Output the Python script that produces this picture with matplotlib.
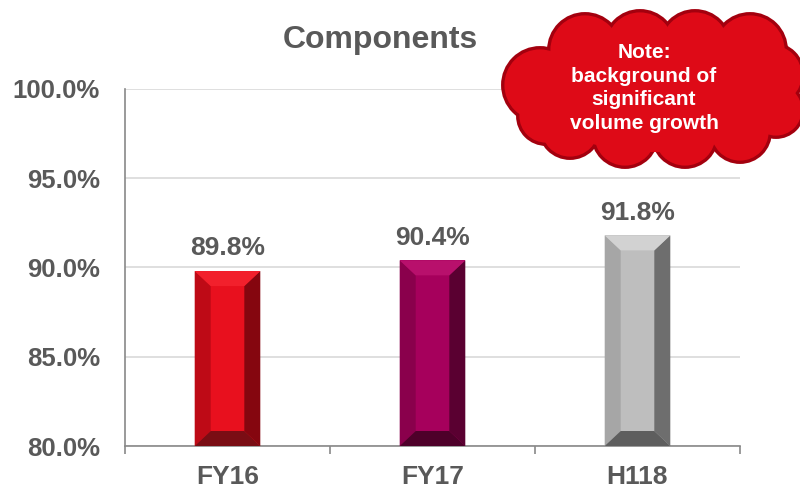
import matplotlib
matplotlib.use("Agg")
import matplotlib.pyplot as plt
from matplotlib.patches import Polygon, Circle, Ellipse

plt.rcParams['font.family'] = ['Liberation Sans', 'DejaVu Sans']

categories = ["FY16", "FY17", "H118"]
values = [89.8, 90.4, 91.8]
labels = ["89.8%", "90.4%", "91.8%"]
yticks = [80.0, 85.0, 90.0, 95.0, 100.0]
ytick_labels = ["80.0%", "85.0%", "90.0%", "95.0%", "100.0%"]
title = "Components"
note_text = "Note:\nbackground of\nsignificant\nvolume growth"

# face colours: centre, left, right, top, bottom
palettes = [
    ("#E8101E", "#BE0A16", "#85060F", "#F2202C", "#7A0D14"),
    ("#A6005C", "#8A004C", "#5A0031", "#B8106C", "#4E002A"),
    ("#BEBEBE", "#A6A6A6", "#6E6E6E", "#D2D2D2", "#5E5E5E"),
]

TEXT = "#595959"
AXIS = "#898989"
fig = plt.figure(figsize=(8, 4.9), dpi=100)
ax = fig.add_axes([125 / 800, 44 / 490, 615 / 800, 357 / 490])

base = 80.0
width = 0.32
bars = ax.bar(range(len(categories)), [v - base for v in values], bottom=base,
              width=width, zorder=3, linewidth=0)

bx = 0.078   # side bevel in data x units
by = 0.84    # top/bottom bevel in data y units
for bar, pal, val, lab in zip(bars, palettes, values, labels):
    c, l, r, t, b = pal
    bar.set_facecolor(c)
    x0 = bar.get_x()
    x1 = x0 + bar.get_width()
    y0 = base
    y1 = val
    faces = [
        ([(x0, y0), (x0 + bx, y0 + by), (x0 + bx, y1 - by), (x0, y1)], l),
        ([(x1, y0), (x1 - bx, y0 + by), (x1 - bx, y1 - by), (x1, y1)], r),
        ([(x0, y1), (x1, y1), (x1 - bx, y1 - by), (x0 + bx, y1 - by)], t),
        ([(x0, y0), (x1, y0), (x1 - bx, y0 + by), (x0 + bx, y0 + by)], b),
    ]
    for pts, col in faces:
        ax.add_patch(Polygon(pts, closed=True, facecolor=col, edgecolor='none', zorder=4))
    ax.text(bar.get_x() + bar.get_width() / 2, val + 0.6, lab, ha='center', va='bottom',
            fontsize=19, fontweight='bold', color=TEXT, zorder=5)

ax.set_xlim(-0.5, 2.5)
ax.set_ylim(80, 100)
ax.set_yticks(yticks)
ax.set_yticklabels(ytick_labels, fontsize=18.5, fontweight='bold', color=TEXT)
ax.set_xticks(range(len(categories)))
ax.set_xticklabels(categories, fontsize=19, fontweight='bold', color=TEXT)
ax.set_xticks([-0.5, 0.5, 1.5, 2.5], minor=True)
ax.tick_params(axis='x', which='major', length=0, pad=14)
ax.tick_params(axis='x', which='minor', length=6, color=AXIS, width=1.2)
ax.tick_params(axis='y', length=0, pad=18)
ax.grid(axis='y', color="#D9D9D9", linewidth=1.2, zorder=0)
for s in ['top', 'right']:
    ax.spines[s].set_visible(False)
for s in ['left', 'bottom']:
    ax.spines[s].set_color(AXIS)
    ax.spines[s].set_linewidth(1.2)

fig.text(380 / 800, 1 - 40 / 490, title, ha='center', va='center',
         fontsize=23, fontweight='bold', color=TEXT)

# callout cloud, in pixel coordinates
ov = fig.add_axes([0, 0, 1, 1], zorder=10)
ov.set_xlim(0, 800)
ov.set_ylim(490, 0)
ov.axis('off')
lobes = [(540, 85, 37), (585, 50, 36), (640, 46, 35), (695, 46, 35), (750, 50, 36),
         (772, 75, 31), (776, 110, 27), (740, 132, 30), (685, 135, 32), (625, 135, 32),
         (570, 128, 30), (546, 116, 28)]
fill = "#DE0A17"
edge = "#A3000E"
for x, y, r in lobes:
    ov.add_patch(Circle((x, y), r, facecolor=fill, edgecolor=edge, linewidth=2.8, zorder=1))
for x, y, r in lobes:
    ov.add_patch(Circle((x, y), r - 1.4, facecolor=fill, edgecolor='none', zorder=2))
ov.add_patch(Ellipse((655, 92), 250, 120, facecolor=fill, edgecolor='none', zorder=2))
ov.text(644, 88, note_text, ha='center', va='center', fontsize=15, fontweight='bold',
        color='white', linespacing=1.32, zorder=3)

fig.savefig("out.png", dpi=100)
